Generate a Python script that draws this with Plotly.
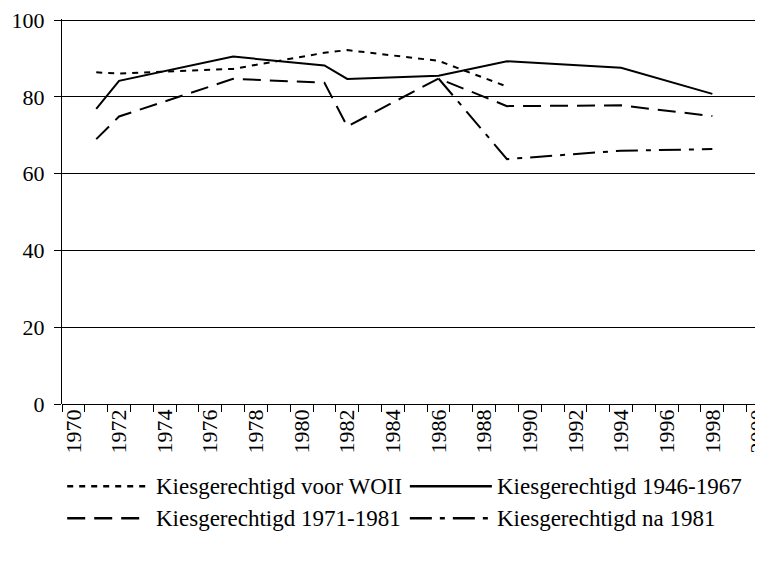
import plotly.graph_objects as go

years_a = [1971, 1972, 1977, 1981, 1982, 1986, 1989]
voor_woii = [86.4, 86.1, 87.3, 91.5, 92.2, 89.4, 82.7]

years_b = [1971, 1972, 1977, 1981, 1982, 1986, 1989, 1994, 1998]
k1946_1967 = [76.9, 84.2, 90.5, 88.2, 84.7, 85.5, 89.3, 87.6, 80.8]
k1971_1981 = [69.0, 74.9, 84.7, 83.7, 72.3, 84.8, 77.6, 77.8, 75.0]

years_c = [1986, 1989, 1994, 1998]
na_1981 = [84.8, 63.8, 66.0, 66.4]

names = ["Kiesgerechtigd voor WOII", "Kiesgerechtigd 1946-1967",
         "Kiesgerechtigd 1971-1981", "Kiesgerechtigd na 1981"]
dashes = ["6px,6px", "solid", "18px,9px", "22px,8px,5px,8px"]

year_labels = list(range(1970, 2001, 2))
y_ticks = [0, 20, 40, 60, 80, 100]

FONT = "Liberation Serif"

fig = go.Figure()
series = [(years_a, voor_woii), (years_b, k1946_1967), (years_b, k1971_1981), (years_c, na_1981)]
for (xs, ys), nm, ds in zip(series, names, dashes):
    fig.add_trace(go.Scatter(x=xs, y=ys, mode="lines", name=nm,
                             line=dict(color="black", width=2, dash=ds),
                             showlegend=False))

# page body has an 8px margin; compensate so the plot lands where intended
OFF = 8
FW, FH = 763, 562
Y_TOP = 100.3
L = 62.3 - OFF
T = 20 - OFF - 0.3 * 3.845
B = FH - (404.5 - OFF)
R = 0
W = FW - L - R
H = FH - T - B
PX_PER_YEAR = 22.81

def fx(xw):
    return (xw - OFF - L) / W

def fy(yw):
    return (FH - B - (yw - OFF)) / H

# manual legend (window pixel positions)
legend_items = [
    (67.5, 149, 155, 487, 0),
    (410, 492, 496, 487, 1),
    (67.5, 146, 155, 519, 2),
    (410, 492, 496, 519, 3),
]
for x0, x1, tx, ty, i in legend_items:
    fig.add_shape(type="line", xref="paper", yref="paper",
                  x0=fx(x0), x1=fx(x1), y0=fy(ty), y1=fy(ty),
                  line=dict(color="black", width=2.5, dash=dashes[i]))
    fig.add_annotation(xref="paper", yref="paper", x=fx(tx), y=fy(ty),
                       text=names[i], showarrow=False, xanchor="left", yanchor="middle",
                       borderpad=0,
                       font=dict(family=FONT, size=23, color="black"))

fig.update_layout(
    width=FW, height=FH,
    margin=dict(l=L, r=R, t=T, b=B, pad=0, autoexpand=False),
    paper_bgcolor="white", plot_bgcolor="white",
    font=dict(family=FONT, size=22, color="black"),
    xaxis=dict(range=[1969.5, 1969.5 + W / PX_PER_YEAR], tickmode="array",
               tickvals=year_labels, ticktext=[str(v) for v in year_labels],
               tickangle=-90, ticks="", showgrid=False, zeroline=False,
               showline=False, automargin=False, ticklabeloverflow="allow",
               tickfont=dict(family=FONT, size=22, color="black"),
               minor=dict(tickmode="linear", tick0=1969.5, dtick=1, ticks="outside",
                          ticklen=7, tickcolor="black", tickwidth=1, showgrid=False)),
    yaxis=dict(range=[0, Y_TOP], tickvals=y_ticks, ticks="outside", ticklen=7,
               tickcolor="black", showline=True, linecolor="black", linewidth=1,
               showgrid=True, gridcolor="black", gridwidth=1, zeroline=True,
               zerolinecolor="black", zerolinewidth=1, ticklabelstandoff=5,
               automargin=False, ticklabeloverflow="allow",
               tickfont=dict(family=FONT, size=22, color="black")),
)

fig.write_html("out.html")
